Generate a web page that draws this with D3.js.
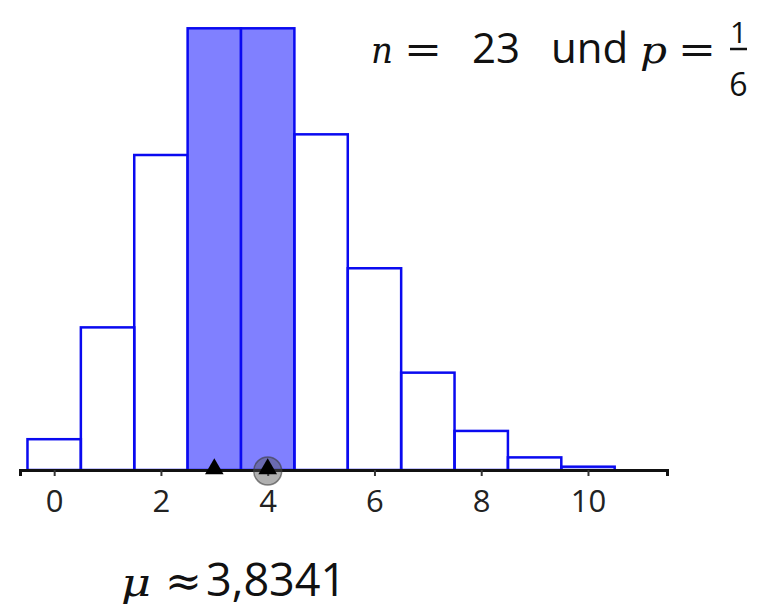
<!DOCTYPE html>
<html>
<head>
<meta charset="utf-8">
<script src="https://cdn.jsdelivr.net/npm/d3@7"></script>
<style>
  body { margin: 0; background: #fff; }
</style>
</head>
<body>
<div id="chart"></div>
<script>
// Binomialverteilung n = 23, p = 1/6
const ks = [0, 1, 2, 3, 4, 5, 6, 7, 8, 9, 10];
const probs = [0.0149, 0.0690, 0.1524, 0.2137, 0.2137, 0.1624, 0.0976, 0.0471, 0.0189, 0.0061, 0.0016];
const highlighted = [3, 4];
const tickValues = [0, 2, 4, 6, 8, 10];
const triangleMarks = [3, 4];
const circleMarks = [4];
const muLabel = "3,8341";

const width = 763, height = 608;
const baseY = 470;

const svg = d3.select("#chart")
    .append("svg")
    .attr("width", width)
    .attr("height", height);

var x = d3.scaleLinear()
    .domain([-0.64, 11.48])
    .range([20, 667]);

var y = d3.scaleLinear()
    .domain([0, d3.max(probs)])
    .range([baseY, 28.3]);

// bars
svg.selectAll("rect.bar")
    .data(ks)
    .enter()
    .append("rect")
    .attr("class", "bar")
    .attr("x", function(k) { return x(k - 0.5); })
    .attr("y", function(k, i) { return y(probs[i]); })
    .attr("width", function(k) { return x(k + 0.5) - x(k - 0.5); })
    .attr("height", function(k, i) { return baseY - y(probs[i]); })
    .style("fill", function(k) { return highlighted.includes(k) ? "#8080ff" : "none"; })
    .style("stroke", "#0a0af0")
    .style("stroke-width", 2.5);

// x axis
const axis = svg.append("g")
    .attr("transform", "translate(0," + baseY + ")")
    .call(d3.axisBottom(x)
        .tickValues(tickValues)
        .tickSizeOuter(0)
        .tickSize(6)
        .tickPadding(14)
        .tickFormat(d3.format("d")));
axis.select(".domain").attr("stroke", "#111").attr("stroke-width", 3);
axis.selectAll(".tick line").attr("stroke", "#333").attr("stroke-width", 2);
axis.selectAll(".tick text")
    .attr("fill", "#222")
    .style("font-family", "'Open Sans', sans-serif")
    .style("font-size", "31px");

// markers
svg.selectAll("circle.mark")
    .data(circleMarks)
    .enter()
    .append("circle")
    .attr("cx", function(k) { return x(k); })
    .attr("cy", baseY + 1)
    .attr("r", 14)
    .style("fill", "rgba(80,80,80,0.45)")
    .style("stroke", "rgba(60,60,60,0.6)")
    .style("stroke-width", 1.5);

svg.selectAll("path.tri")
    .data(triangleMarks)
    .enter()
    .append("path")
    .attr("transform", function(k) { return "translate(" + x(k) + "," + (baseY - 1) + ")"; })
    .attr("d", d3.symbol(d3.symbolTriangle, 150))
    .style("fill", "#000");

// Beschriftung oben rechts
const serif = "'DejaVu Serif', serif";
const sans = "'Open Sans', sans-serif";
const title = svg.append("g").attr("fill", "#111");

function word(txt, x0, font, size, italic, len) {
    const t = title.append("text")
        .attr("x", x0).attr("y", 63)
        .style("font-family", font)
        .style("font-size", size + "px")
        .text(txt);
    if (italic) t.style("font-style", "italic");
    if (len) t.attr("textLength", len).attr("lengthAdjust", "spacingAndGlyphs");
    return t;
}
word("n", 371, serif, 37, true, 22);
word("=", 404, serif, 40, false, 38);
word("23", 472, sans, 42, false);
word("und", 551, sans, 42, false);
word("p", 640, serif, 37, true, 27);
word("=", 678, serif, 40, false, 38);
title.append("line").attr("x1", 730).attr("x2", 747).attr("y1", 49).attr("y2", 49)
    .attr("stroke", "#111").attr("stroke-width", 2.5);
title.append("text").attr("x", 738.5).attr("y", 43).attr("text-anchor", "middle")
    .style("font-family", sans).style("font-size", "30px").text("1");
title.append("text").attr("x", 738.5).attr("y", 96).attr("text-anchor", "middle")
    .style("font-family", sans).style("font-size", "32px").text("6");

// Erwartungswert
const muG = svg.append("g").attr("fill", "#111");
muG.append("text").attr("x", 121).attr("y", 596)
    .style("font-family", serif).style("font-style", "italic").style("font-size", "40px")
    .attr("textLength", 30).attr("lengthAdjust", "spacingAndGlyphs")
    .text("μ");
muG.append("text").attr("x", 165).attr("y", 596)
    .style("font-family", serif).style("font-size", "44px")
    .text("≈");
muG.append("text").attr("x", 206).attr("y", 596)
    .style("font-family", sans).style("font-size", "45px")
    .text(muLabel);
</script>
</body>
</html>
